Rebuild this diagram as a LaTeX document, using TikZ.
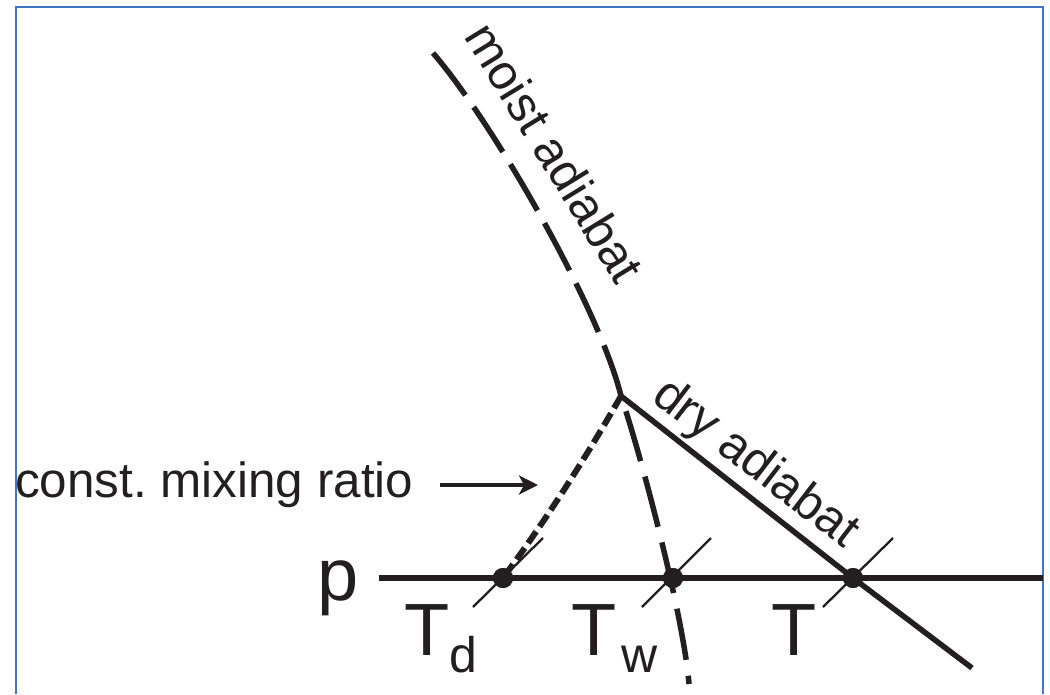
\documentclass[tikz,border=0pt]{standalone}
\usepackage{fontspec}
\setmainfont{Liberation Sans}
\usetikzlibrary{calc,arrows.meta}
\definecolor{ink}{HTML}{231F20}
\definecolor{framecol}{RGB}{68,114,196}
\frenchspacing
\begin{document}
\begin{tikzpicture}[x=1pt,y=-1pt,
  heavy/.style={draw=ink,line width=5.5pt},
  moistdash/.style={heavy,dash pattern=on 53.5pt off 14.5pt},
  wetdash/.style={heavy,dash pattern=on 52pt off 16pt,dash phase=52pt},
  mixdash/.style={draw=ink,line width=6pt,dash pattern=on 14pt off 6pt},
  tickline/.style={draw=ink,line width=2.3pt},
  dotnode/.style={circle,fill=ink,minimum size=20pt,inner sep=0pt},
  txt/.style={inner sep=0pt,text=ink,font=\fontsize{49.4pt}{56pt}\selectfont},
  bigtxt/.style={inner sep=0pt,text=ink,font=\fontsize{74pt}{80pt}\selectfont},
  subtxt/.style={inner sep=0pt,text=ink,font=\fontsize{50pt}{56pt}\selectfont}
]
\useasboundingbox (0,0) rectangle (1050,694);
\fill[white] (0,0) rectangle (1050,694);
% frame
\draw[framecol,line width=2pt] (15.5,694) -- (15.5,6.5) -- (1043,6.5) -- (1043,694);

% key points
\coordinate (A) at (621,396);
\coordinate (mtop) at (433,53);
\coordinate (pstart) at (379,578);
\coordinate (pend) at (1043,578);
\coordinate (dryend) at (972,668);
\coordinate (wetend) at (689,684);
\node[dotnode] (Td) at (503,578) {};
\node[dotnode] (Tw) at (673,578) {};
\node[dotnode] (Tt) at (853,578) {};

% p isobar
\draw[heavy,line width=6.5pt] (pstart) -- (pend);
% dry adiabat
\draw[heavy] (A) -- (Tt.center) -- (dryend);
% moist adiabat
\draw[moistdash] (A) .. controls (600,310) and (495,125) .. (mtop);
% wet-bulb line
\draw[wetdash] (A) .. controls (644,465) and (684,620) .. (wetend);
% constant mixing ratio
\draw[mixdash] (A) .. controls (585,459) and (546,520) .. (Td.center);

% ticks
\draw[tickline] ($(Td)+(-30,29)$) -- ($(Td)+(40,-40)$);
\draw[tickline] ($(Tw)+(-31,29)$) -- ($(Tw)+(38,-40)$);
\draw[tickline] ($(Tt)+(-30,29)$) -- ($(Tt)+(40,-40)$);

% dots on top
\node[dotnode] at (Td) {};
\node[dotnode] at (Tw) {};
\node[dotnode] at (Tt) {};

% labels
\node[txt,anchor=base west] (mixlbl) at (15,497) {const. mixing ratio};
\coordinate (arrtip) at (538,485);
\draw[ink,line width=3.5pt,-{Stealth[length=19pt,width=19pt,inset=5pt]}] (440,485) -- (arrtip);

\node[bigtxt,anchor=base west] (plbl) at (317,600) {p};
\node[bigtxt,anchor=base west] (Tdl) at (404.5,655) {T};
\node[subtxt,anchor=base west] (Tds) at (449,672) {d};
\node[bigtxt,anchor=base west] (Twl) at (571.5,655) {T};
\node[subtxt,anchor=base west] (Tws) at (621,672) {w};
\node[bigtxt,anchor=base west] (Tl) at (771.5,655) {T};

\node[txt,anchor=base west,rotate=-58.5] (moistlbl) at (463,36) {moist adiabat};
\node[txt,anchor=base west,rotate=-37.5] (drylbl) at (650,400) {dry adiabat};
\end{tikzpicture}
\end{document}
